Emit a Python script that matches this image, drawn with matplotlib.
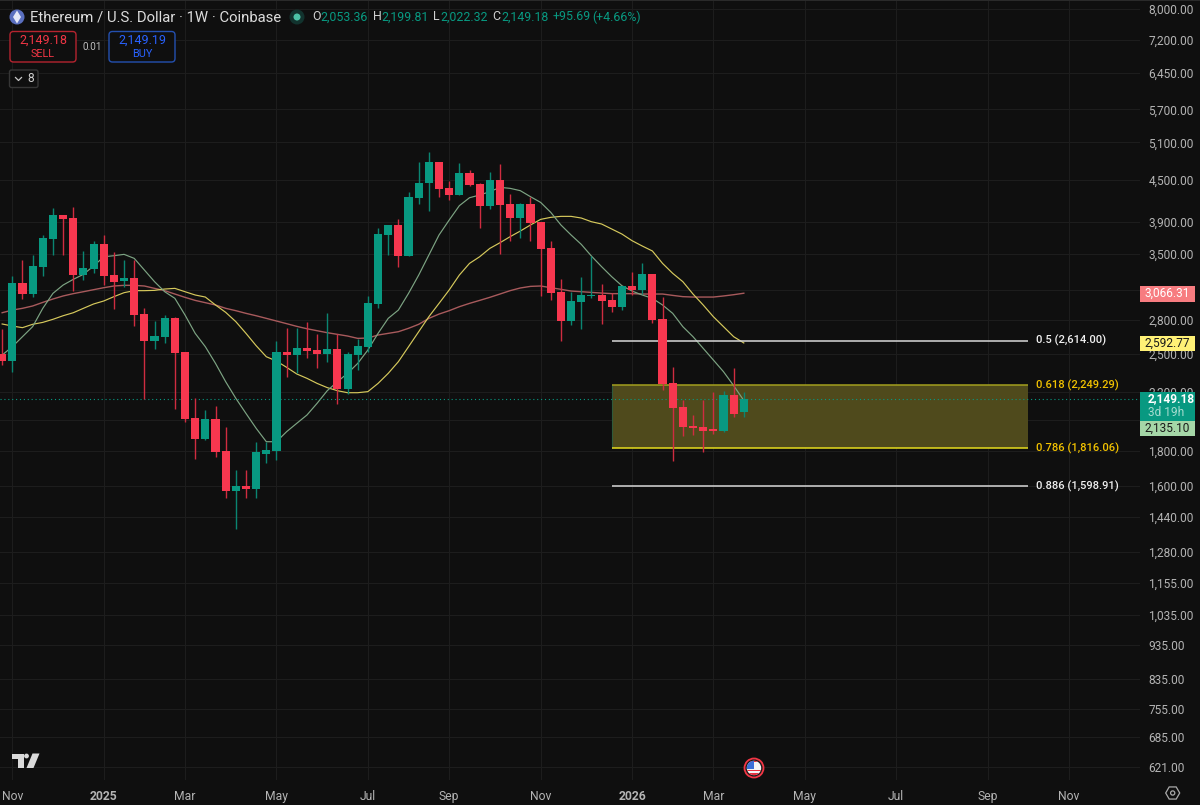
import numpy as np
import matplotlib
matplotlib.use("Agg")
import matplotlib.pyplot as plt
from matplotlib.patches import Circle, FancyBboxPatch, Polygon, Rectangle

plt.rcParams['font.family'] = ['Roboto', 'DejaVu Sans']

# weekly candles, first one is cut off by the left edge
opens = [2498,2442,3177,3062,3350,3686,3997,3947,3257,3327,3620,3257,3195,3228,2858,2613,2645,2817,2515,2015,1875,2004,1803,1573,1598,1582,1784,1803,2512,2489,2549,2534,2498,2540,2220,2489,2560,2960,3732,3860,3476,4223,4442,4768,4373,4276,4595,4427,4120,4492,4143,3956,4143,3899,3572,3079,2792,2977,3038,3051,2997,2930,3138,3100,3275,2808,2265,2086,1959,1952,1937,1928,2175,2053.36]
highs = [2714,3250,3430,3484,3732,4083,3997,4097,3532,3661,3732,3520,3430,3430,2914,2789,2849,2833,2515,2151,2068,2098,1952,1689,1689,1854,1858,2607,2730,2730,2782,2672,2868,2672,2517,2627,3034,3816,3860,3934,4319,4768,4932,4779,4477,4752,4647,4442,4610,4742,4280,4162,4237,3899,3653,3213,3079,3235,3476,3166,3072,3145,3297,3391,3275,3031,2390,2139,2033,2139,2197,2204,2380,2199.81]
lows = [2404,2353,3007,3024,3250,3484,3484,3089,3206,3286,3149,2904,3128,2745,2143,2543,2589,2072,1986,1753,1871,1766,1535,1382,1535,1538,1731,1747,2314,2345,2464,2382,2434,2110,2182,2366,2515,2920,3488,3350,3476,4148,4046,4242,4199,4266,4397,3816,4074,3500,3661,3698,3661,3041,2997,2613,2754,2714,3017,2764,2878,2897,3048,3058,2773,2212,1743,1894,1900,1796,1909,1922,2022,2022.32]
closes = [2442,3177,3062,3361,3698,3997,3934,3257,3338,3620,3250,3184,3228,2852,2613,2654,2817,2506,2008,1875,2004,1796,1573,1598,1582,1792,1809,2512,2489,2549,2523,2498,2540,2220,2495,2566,2967,3744,3860,3476,4237,4452,4768,4358,4276,4595,4412,4120,4492,4134,3956,4143,3886,3563,3072,2792,2987,3051,3051,2987,2930,3138,3103,3275,2801,2260,2079,1955,1946,1928,1928,2175,2040,2149.18]

ma_fast = [2489,2560,2648,2739,2914,3065,3152,3213,3268,3361,3468,3480,3496,3449,3316,3188,3082,3014,2849,2678,2560,2420,2275,2151,2044,1944,1858,1858,1922,1977,2033,2115,2207,2275,2340,2420,2532,2678,2817,2897,3065,3260,3488,3732,3925,4120,4232,4271,4319,4383,4368,4334,4247,4166,4028,3860,3732,3616,3476,3354,3242,3145,3089,3048,3014,2947,2865,2739,2648,2546,2448,2353,2245,2135.10]
ma_mid = [2764,2745,2730,2761,2779,2808,2842,2871,2914,2957,2987,3031,3072,3093,3093,3096,3110,3117,3082,3048,3027,2947,2875,2786,2678,2569,2475,2439,2388,2335,2301,2262,2230,2207,2192,2192,2200,2262,2340,2434,2560,2693,2833,2963,3100,3260,3391,3468,3567,3636,3711,3782,3860,3934,3961,3974,3974,3952,3903,3873,3808,3744,3661,3596,3536,3391,3279,3188,3058,2947,2833,2739,2648,2592.77]
ma_slow = [2871,2897,2914,2937,2973,3007,3038,3062,3082,3103,3124,3142,3149,3149,3142,3117,3093,3058,3024,2993,2970,2947,2914,2891,2865,2842,2817,2792,2767,2742,2720,2702,2684,2669,2654,2633,2636,2663,2678,2693,2724,2761,2817,2858,2891,2930,2963,2993,3024,3058,3093,3121,3138,3142,3124,3107,3089,3082,3075,3068,3062,3062,3062,3058,3058,3058,3044,3031,3027,3027,3027,3038,3051,3066.31]

price_ticks = [8000,7200,6450,5700,5100,4500,3900,3500,3100,2800,2500,2200,2000,1800,1600,1440,1280,1155,1035,935,835,755,685,621]
week_ticks = [0,9,17,26,35,43,52,61,69,78,87,96,104]
week_labels = ['Nov','2025','Mar','May','Jul','Sep','Nov','2026','Mar','May','Jul','Sep','Nov']
fib_levels = [2614.00, 2249.29, 1816.06, 1598.91]
fib_names = ['0.5 (2,614.00)', '0.618 (2,249.29)', '0.786 (1,816.06)', '0.886 (1,598.91)']
fib_colors = ['#d8d8d8', '#a39f1e', '#e6dc1e', '#d8d8d8']
fib_text_colors = ['#f0f0f0', '#f2c200', '#f2c200', '#f0f0f0']

BG = '#0f0f0f'
GRID = '#1d1d1d'
UP = '#089981'
DOWN = '#f7374f'
MUTED = '#b4b4b4'

fig = plt.figure(figsize=(12, 8.05), dpi=100, facecolor=BG)
ax = fig.add_axes([0, 25 / 805, 1140 / 1200, 780 / 805], facecolor=BG)
ax.set_yscale('log')
ax.set_xlim(-12.3 / 10.16, (1140 - 12.3) / 10.16)
ax.set_ylim(1600 * np.exp((486 - 780) / 296.4), 8000 * np.exp(9 / 296.4))

weeks = np.arange(-1, len(opens) - 1)
o, h, l, c = map(np.array, (opens, highs, lows, closes))
up = c >= o

# moving averages sit under the candles
ax.plot(weeks, ma_slow, color='#a85a5c', lw=1.0, zorder=2)
ax.plot(weeks, ma_mid, color='#d6c95c', lw=0.85, zorder=2)
ax.plot(weeks, ma_fast, color='#7da483', lw=0.85, zorder=2)

ax.vlines(weeks[up], l[up], h[up], color='#0a8572', lw=1.0, zorder=3)
ax.vlines(weeks[~up], l[~up], h[~up], color='#cf2c40', lw=1.0, zorder=3)
ax.bar(weeks[up], c[up] - o[up], bottom=o[up], width=0.8, color=UP, zorder=4)
ax.bar(weeks[~up], o[~up] - c[~up], bottom=c[~up], width=0.8, color=DOWN, zorder=4)

# fib block, drawn from week 59 to week 100
ax.fill_between([59, 100], fib_levels[2], fib_levels[1], color='#4f4a1c', lw=0, zorder=1)
ax.vlines(59, fib_levels[2], fib_levels[1], color='#2f5a3a', lw=0.8, zorder=1.5)
for lev, name, col, tcol in zip(fib_levels, fib_names, fib_colors, fib_text_colors):
    ax.hlines(lev, 59, 100, color=col, lw=1.1, zorder=2.5)
    ax.text(100.8, lev, name, color=tcol, fontsize=8.0, fontweight='medium', va='center', ha='left', zorder=5)

ax.axhline(closes[-1], color=UP, lw=0.8, ls=(0, (1, 2.5)), zorder=2.6)

ax.set_yticks(price_ticks)
ax.set_yticklabels([f'{t:,.2f}' for t in price_ticks])
ax.minorticks_off()
ax.yaxis.tick_right()
ax.tick_params(axis='y', length=0, pad=6, labelsize=8.6, labelcolor=MUTED)
ax.set_xticks(week_ticks)
ax.set_xticklabels(week_labels)
ax.tick_params(axis='x', length=0, pad=7, labelsize=8.7, labelcolor=MUTED)
for tl in ax.get_xticklabels():
    if tl.get_text().startswith('20'):
        tl.set_fontweight('bold')
ax.grid(True, color=GRID, lw=0.8)
ax.set_axisbelow(True)
for s in ax.spines.values():
    s.set_visible(False)

# overlay in screen pixels for the header, buttons and price tags
ui = fig.add_axes([0, 0, 1, 1], facecolor='none')
ui.set_xlim(0, 1200)
ui.set_ylim(805, 0)
ui.axis('off')

ui.add_patch(Rectangle((0, 0), 1200, 1.5, color='#2a2a2a', lw=0))
ui.add_patch(Circle((17, 17), 7.5, color='#5a6fc0', lw=0))
ui.add_patch(Polygon([(17, 10.5), (21, 17), (17, 23.5), (13, 17)], color='#e4e8f8', lw=0))
ui.text(29.5, 17, 'Ethereum / U.S. Dollar · 1W · Coinbase', color='#dcdcdc', fontsize=10.7, va='center')
ui.add_patch(Circle((297, 17), 7.5, color='#12332e', lw=0))
ui.add_patch(Circle((297, 17), 3.5, color='#4cc2a6', lw=0))
for x, s in [(312.5, 'O'), (373, 'H'), (433.5, 'L'), (492.5, 'C')]:
    ui.text(x, 17, s, color='#d0d0d0', fontsize=8.9, va='center')
for x, s in [(320.5, '2,053.36'), (381, '2,199.81'), (440.5, '2,022.32'), (501, '2,149.18'), (552.5, '+95.69'), (592, '(+4.66%)')]:
    ui.text(x, 17, s, color=UP, fontsize=8.9, va='center')

def button(x0, x1, y0, y1, edge, radius=3.5):
    ui.add_patch(FancyBboxPatch((x0 + radius, y0 + radius), x1 - x0 - 2 * radius, y1 - y0 - 2 * radius,
                                boxstyle=f'round,pad={radius}', fc=BG, ec=edge, lw=1.0))

button(10, 76, 31.5, 62, '#b5242f')
ui.text(43, 40.5, '2,149.18', color='#f23645', fontsize=9.0, ha='center', va='center')
ui.text(43, 54, 'SELL', color='#f23645', fontsize=7.8, ha='center', va='center')
ui.text(92, 46.5, '0.01', color='#bdbdbd', fontsize=7.2, ha='center', va='center')
button(109, 175, 31.5, 62, '#2450b0')
ui.text(142, 40.5, '2,149.19', color='#2962ff', fontsize=9.0, ha='center', va='center')
ui.text(142, 54, 'BUY', color='#2962ff', fontsize=7.8, ha='center', va='center')
button(9.5, 38, 70, 87.5, '#363636', radius=2)
ui.plot([15.5, 18.5, 21.5], [77.5, 80.5, 77.5], color='#c8c8c8', lw=0.9)
ui.text(30.5, 79, '8', color='#d0d0d0', fontsize=8.6, ha='center', va='center')

# right side price tags
def tag(y0, y1, fc, text, tc, weight='normal'):
    ui.add_patch(Rectangle((1140, y0), 55, y1 - y0, color=fc, lw=0))
    ui.text(1167.5, (y0 + y1) / 2, text, color=tc, fontsize=8.6, fontweight=weight, ha='center', va='center')

tag(286, 301.5, '#f77c80', '3,066.31', '#ffffff')
tag(336, 351, '#fff176', '2,592.77', '#1a1a1a')
ui.add_patch(Rectangle((1140, 391.5), 55, 29.5, color=UP, lw=0))
ui.text(1147.5, 399, '2,149.18', color='#ffffff', fontsize=8.6, fontweight='bold', va='center')
ui.text(1147.5, 412, '3d 19h', color='#a5dccf', fontsize=8.6, va='center')
tag(421, 435.5, '#a5d6a7', '2,135.10', '#1a1a1a')

# tradingview mark
ui.add_patch(Polygon([(12, 753.5), (23.5, 753.5), (23.5, 768), (17.5, 768), (17.5, 759), (12, 759)], color='#dadada', lw=0))
ui.add_patch(Circle((26.5, 756), 2.4, color='#dadada', lw=0))
ui.add_patch(Polygon([(32.5, 753.5), (39.5, 753.5), (33.5, 768), (26.5, 768)], color='#dadada', lw=0))

# us event flag
ui.add_patch(Circle((754, 768), 9.5, fc='#1a1a1a', ec='#f23645', lw=1.3))
disc = Circle((754, 768), 7.2, color='#f4f4f4', lw=0)
ui.add_patch(disc)
for r in [Rectangle((746, 769.5), 16, 1.7, color='#e8323f', lw=0), Rectangle((746, 773), 16, 1.7, color='#e8323f', lw=0),
          Rectangle((746, 760), 16, 2.4, color='#e8323f', lw=0), Rectangle((746, 760), 8, 8.5, color='#3a6fd8', lw=0)]:
    ui.add_patch(r)
    r.set_clip_path(disc)

# settings hexagon
ang = np.deg2rad(np.arange(0, 360, 60))
ui.add_patch(Polygon(np.c_[1172.7 + 7 * np.cos(ang), 793 + 7 * np.sin(ang)], fc='none', ec='#aaaaaa', lw=0.9))
ui.add_patch(Circle((1172.7, 793), 2.1, fc='none', ec='#aaaaaa', lw=0.9))

fig.savefig('out.png', dpi=100, facecolor=BG)
